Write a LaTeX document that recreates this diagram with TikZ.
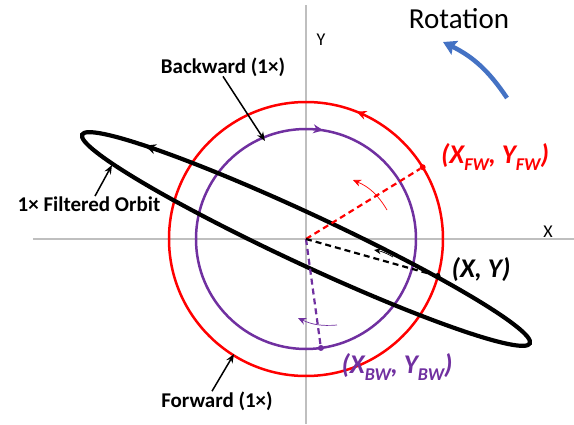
\documentclass[tikz,border=0pt]{standalone}
\usepackage{fontspec}
\setmainfont{Carlito}
\usetikzlibrary{arrows.meta,decorations.markings}
\definecolor{fwred}{RGB}{255,0,0}
\definecolor{bwpurple}{RGB}{112,48,160}
\definecolor{rotblue}{RGB}{68,114,196}
\definecolor{axisgray}{RGB}{191,191,191}
\newcommand{\mysub}[1]{\raisebox{-0.28em}{\fontsize{18}{18}\selectfont #1}}
\tikzset{
  axisline/.style={draw=axisgray, line width=1.5pt},
  fwcircle/.style={draw=fwred, line width=2.5pt},
  bwcircle/.style={draw=bwpurple, line width=2.5pt},
  orbitline/.style={draw=black, line width=4.2pt},
  dashline/.style={line width=2.2pt, dash pattern=on 6pt off 4pt},
  labarrow/.style={draw=black, line width=1.5pt, -{Stealth[length=9pt,width=7pt]}},
  thinarrow/.style={line width=0.7pt, -{Stealth[length=8pt,width=7pt]}},
  dotnode/.style={circle, inner sep=0pt, minimum size=6pt},
  lab/.style={inner sep=0pt, anchor=base, font=\fontsize{21}{23}\selectfont\bfseries},
  ptlab/.style={inner sep=0pt, anchor=base, font=\fontsize{27}{29}\selectfont\bfseries\itshape},
  axlab/.style={inner sep=0pt, anchor=base, font=\fontsize{18}{20}\selectfont},
}
\begin{document}
\begin{tikzpicture}[x=1pt,y=1pt]
\useasboundingbox (-306,-185) rectangle (268,239);
% axes
\coordinate (O) at (0,0);
\coordinate (vtop) at (0,234);
\coordinate (vbot) at (0,-185);
\coordinate (hleft) at (-273,0);
\coordinate (hright) at (268,0);
\draw[axisline] (vtop) -- (vbot);
\draw[axisline] (hleft) -- (hright);
\node[axlab] (ylab) at (15,194) {Y};
\node[axlab] (xlab) at (242,2) {X};
% circles
\draw[fwcircle, postaction={decorate}, decoration={markings,
  mark=at position 0.19 with {\arrow[fwred]{Stealth[length=10pt,width=9pt]}}}]
  (O) circle[radius=137];
\draw[bwcircle, postaction={decorate}, decoration={markings,
  mark=at position 0.225 with {\arrowreversed[bwpurple]{Stealth[length=10pt,width=9pt]}}}]
  (O) circle[radius=110];
% orbit
\draw[orbitline, rotate=-25, postaction={decorate}, decoration={markings,
  mark=at position 0.435 with {\arrow{Stealth[length=11pt,width=10pt]}}}]
  (O) ellipse[x radius=247, y radius=25];
% points
\node[dotnode, fill=fwred] (fwpt) at (31.6:137) {};
\node[dotnode, fill=bwpurple] (bwpt) at (-82.2:110) {};
\node[dotnode, fill=black] (xypt) at (131.6,-37) {};
\draw[dashline, fwred] (O) -- (fwpt);
\draw[dashline, bwpurple] (O) -- (bwpt);
\draw[dashline, black] (O) -- (xypt);
% small rotation arrows
\coordinate (ra1) at (81,29); \coordinate (ra2) at (47,59);
\draw[thinarrow, fwred] (ra1) to[bend right=18] (ra2);
\coordinate (pa1) at (31,-86); \coordinate (pa2) at (-8,-79);
\draw[thinarrow, bwpurple] (pa1) to[bend left=15] (pa2);
\coordinate (ka1) at (87,-18); \coordinate (ka2) at (68,-11);
\draw[thinarrow, black, -{Stealth[length=7pt,width=6pt]}] (ka1) to[bend right=10] (ka2);
% point labels
\node[ptlab, text=fwred] (fwlab) at (189,76) {(X\mysub{FW}, Y\mysub{FW})};
\node[ptlab, text=black] (xylab) at (175,-38) {(X, Y)};
\node[ptlab, text=bwpurple] (bwlab) at (91,-134) {(X\mysub{BW}, Y\mysub{BW})};
% component labels
\node[lab] (bklab) at (-83,166) {Backward (1×)};
\coordinate (bktip) at (-41,98);
\draw[labarrow] (bklab.south) -- (bktip);
\node[lab] (folab) at (-217,28) {1× Filtered Orbit};
\coordinate (fotip) at (-194,74);
\draw[labarrow] ([xshift=6pt]folab.north) -- (fotip);
\node[lab] (fwdlab) at (-89,-168) {Forward (1×)};
\coordinate (fwtip) at (-72,-115);
\draw[labarrow] ([xshift=-5pt]fwdlab.north) -- (fwtip);
% rotation
\node[inner sep=0pt, anchor=base, font=\fontsize{29}{31}\selectfont] (rotlab) at (153,211) {Rotation};
\coordinate (rb1) at (201,141); \coordinate (rb2) at (137,197);
\draw[draw=rotblue, line width=4.5pt, -{Stealth[length=13pt,width=15pt,inset=2pt]}] (rb1) to[bend right=15] (rb2);
\end{tikzpicture}
\end{document}
